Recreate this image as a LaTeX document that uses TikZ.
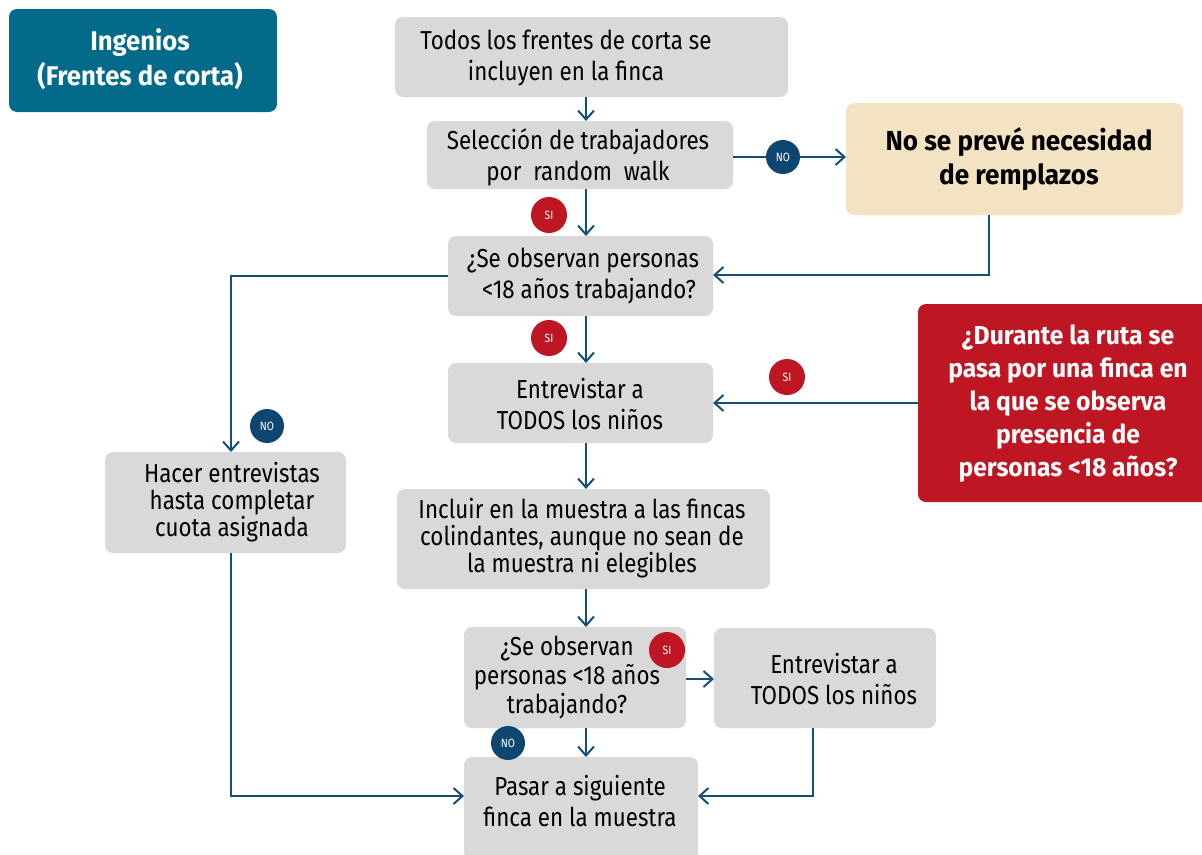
\documentclass[tikz,border=0pt]{standalone}
\usepackage{fontspec}
\setmainfont[FakeStretch=0.86,BoldFeatures={FakeStretch=0.95}]{Fira Sans}
\usetikzlibrary{arrows.meta}
\definecolor{boxgray}{HTML}{D9D9D9}
\definecolor{teal}{HTML}{046A89}
\definecolor{tan}{HTML}{F3E3C3}
\definecolor{redbox}{HTML}{BE1622}
\definecolor{arrowblue}{HTML}{134F7A}
\definecolor{nocirc}{HTML}{0D4670}
\tikzset{
  txt/.style={align=center, inner sep=0pt, text=black},
  conn/.style={draw=arrowblue, line width=2pt, -{Straight Barb[length=9pt,width=16pt,line width=2pt]}},
  sicirc/.style={circle, fill=redbox, text=white, minimum size=36pt, inner sep=0pt, font=\fontsize{12}{12}\selectfont},
  nocircle/.style={circle, fill=nocirc, text=white, minimum size=34pt, inner sep=0pt, font=\fontsize{12}{12}\selectfont},
}
\begin{document}
\begin{tikzpicture}[x=1pt,y=-1pt]
\useasboundingbox (0,0) rectangle (1202,854);
% boxes
\fill[teal, rounded corners=8pt] (9,9) rectangle (277,112);
\node[txt, text=white, font=\bfseries\fontsize{27}{35}\selectfont] (ing) at (140,59) {Ingenios\\(Frentes de corta)};

\fill[boxgray, rounded corners=8pt] (395,17) rectangle (788,97);
\node[txt, font=\fontsize{26}{31}\selectfont] (b1t) at (566,58) {Todos los frentes de corta se\\incluyen en la finca};

\fill[boxgray, rounded corners=8pt] (427,121) rectangle (733,189);
\node[txt, font=\fontsize{26}{31}\selectfont] (b2t) at (578,157) {Selección de trabajadores\\por\ \ random\ \ walk};

\fill[boxgray, rounded corners=8pt] (448,236) rectangle (713,316);
\node[txt, font=\fontsize{26}{31}\selectfont] (b3t) at (583,276) {¿Se observan personas\\\ \ <18 años trabajando?};

\fill[boxgray, rounded corners=8pt] (448,363) rectangle (713,443);
\node[txt, font=\fontsize{26}{31}\selectfont] (b4t) at (580,404) {Entrevistar a\\TODOS los niños};

\fill[boxgray, rounded corners=8pt] (397,489) rectangle (770,589);
\node[txt, font=\fontsize{26}{27}\selectfont] (b5t) at (582,538) {Incluir en la muestra a las fincas\\colindantes, aunque no sean de\\la muestra ni elegibles};

\fill[boxgray, rounded corners=8pt] (464,627) rectangle (686,728);
\node[txt, font=\fontsize{26}{29}\selectfont] (b6t) at (567,677) {¿Se observan\\personas <18 años\\trabajando?};

\fill[boxgray, rounded corners=8pt] (714,628) rectangle (936,728);
\node[txt, font=\fontsize{26}{31}\selectfont] (b7t) at (834,679) {Entrevistar a\\TODOS los niños};

\fill[boxgray, rounded corners=8pt] (464,757) rectangle (698,860);
\node[txt, font=\fontsize{26}{31}\selectfont] (b8t) at (580,801) {Pasar a siguiente\\finca en la muestra};

\fill[boxgray, rounded corners=8pt] (105,452) rectangle (346,553);
\node[txt, font=\fontsize{26}{27}\selectfont] (blt) at (232,502) {Hacer entrevistas\\hasta completar\\cuota asignada};

\fill[tan, rounded corners=8pt] (846,103) rectangle (1183,215);
\node[txt, font=\bfseries\fontsize{27.5}{34}\selectfont] (tant) at (1019,159) {No se prevé necesidad\\de remplazos};

\fill[redbox, rounded corners=8pt] (918,304) rectangle (1212,502);
\node[txt, text=white, font=\bfseries\fontsize{26}{33}\selectfont] (redt) at (1068,404) {¿Durante la ruta se\\pasa por una finca en\\la que se observa\\presencia de\\personas <18 años?};

% connector coordinates
\coordinate (b1b) at (586,97);
\coordinate (b2t) at (586,121);
\coordinate (b2b) at (586,189);
\coordinate (b2r) at (733,157);
\coordinate (tanl) at (846,157);
\coordinate (tanb) at (989,215);
\coordinate (b3t) at (586,236);
\coordinate (b3r) at (713,275);
\coordinate (b3l) at (448,276);
\coordinate (b3b) at (586,316);
\coordinate (blt) at (231,452);
\coordinate (blb) at (231,553);
\coordinate (b4t) at (586,363);
\coordinate (b4r) at (713,403);
\coordinate (redl) at (918,403);
\coordinate (b4b) at (586,443);
\coordinate (b5t) at (586,489);
\coordinate (b5b) at (586,589);
\coordinate (b6t) at (586,627);
\coordinate (b6r) at (686,679);
\coordinate (b7l) at (714,679);
\coordinate (b6b) at (586,728);
\coordinate (b8t) at (586,757);
\coordinate (b7b) at (813,728);
\coordinate (b8r) at (698,796);
\coordinate (b8l) at (464,796);

\draw[conn] (b1b) -- (b2t);
\draw[conn] (b2b) -- (b3t);
\draw[conn] (b2r) -- (tanl);
\draw[conn] (tanb) |- (b3r);
\draw[conn] (b3l) -| (blt);
\draw[conn] (b3b) -- (b4t);
\draw[conn] (redl) -- (b4r);
\draw[conn] (b4b) -- (b5t);
\draw[conn] (b5b) -- (b6t);
\draw[conn] (b6r) -- (b7l);
\draw[conn] (b6b) -- (b8t);
\draw[conn] (b7b) |- (b8r);
\draw[conn] (blb) |- (b8l);

% labels
\node[sicirc] (si1) at (549,215) {SI};
\node[nocircle] (no1) at (783,157) {NO};
\node[sicirc] (si2) at (549,338) {SI};
\node[nocircle] (no2) at (267,426) {NO};
\node[sicirc] (si3) at (787,377) {SI};
\node[sicirc] (si4) at (667,650) {SI};
\node[nocircle] (no3) at (508,743) {NO};
\end{tikzpicture}
\end{document}
